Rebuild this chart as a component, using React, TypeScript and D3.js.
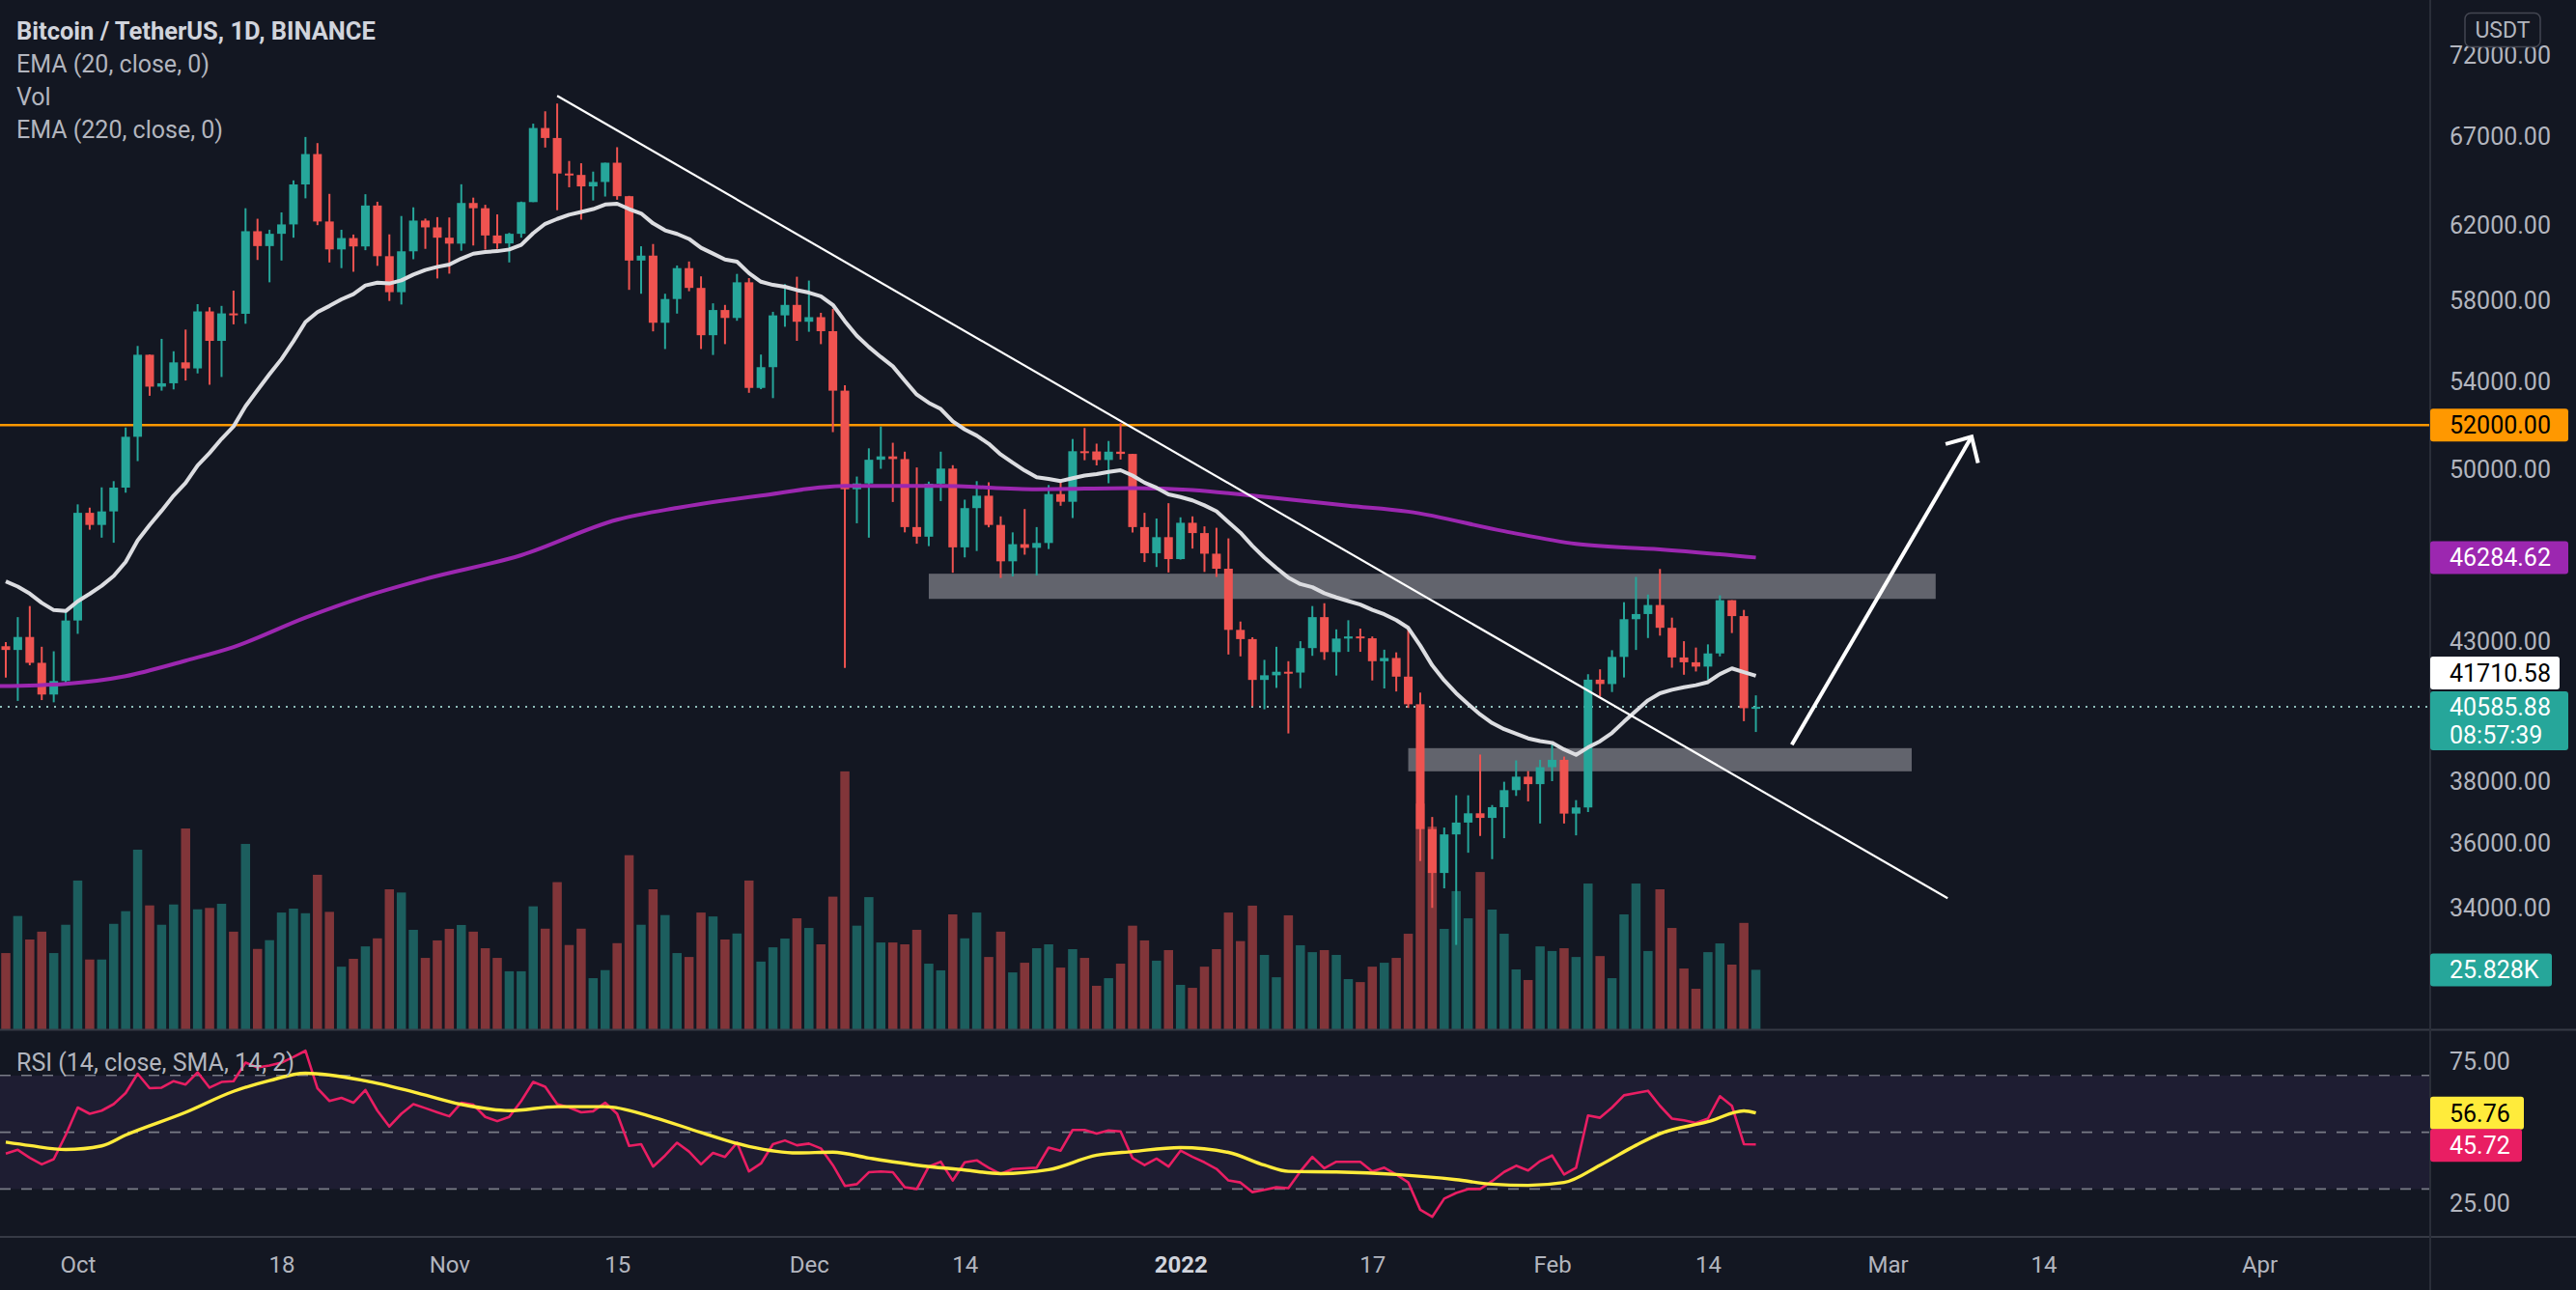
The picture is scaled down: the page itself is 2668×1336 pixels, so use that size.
import React, { useEffect, useRef } from 'react';
import * as d3 from 'd3';

const W = 2668;
const H = 1336;
const PLOT_R = 2517;      // left edge of the price scale
const PRICE_BOTTOM = 1066;
const RSI_BOTTOM = 1281;
const BG = '#131722';

const UP = '#26a69a';
const DOWN = '#ef5350';

const FIRST_DAY = Date.UTC(2021, 8, 25);
const DAY_MS = 86400000;
const day = (i: number) => new Date(FIRST_DAY + i * DAY_MS);

// daily candles [open, high, low, close], 25 Sep 2021 .. 18 Feb 2022
const ohlc: [number, number, number, number][] = [
  [42810, 42970, 41650, 42670], [42670, 43920, 40800, 43160], [43160, 44350, 42100, 42190],
  [42190, 42790, 40830, 41030], [41030, 42620, 40750, 41520], [41520, 44130, 41410, 43790],
  // Oct
  [43790, 48500, 43280, 48140], [48140, 48360, 47430, 47630], [47630, 49230, 47100, 48200],
  [48200, 49500, 46890, 49220], [49220, 51890, 49000, 51470], [51470, 55750, 50380, 55320],
  [55320, 55330, 53360, 53790], [53790, 56100, 53600, 53950], [53950, 55490, 53660, 54950],
  [54950, 56560, 54080, 54660], [54660, 57840, 54420, 57470], [57470, 57680, 53880, 56000],
  [56000, 57750, 54250, 57370], [57370, 58530, 56820, 57350], [57350, 62930, 56850, 61670],
  [61670, 62350, 60130, 60870], [60870, 61750, 58960, 61530], [61530, 62700, 60100, 62040],
  [62040, 64490, 61320, 64260], [64260, 67000, 63480, 66000], [66000, 66640, 62000, 62200],
  [62200, 63730, 60000, 60690], [60690, 61750, 59700, 61300], [61300, 61490, 59510, 60850],
  [60850, 63710, 60650, 63080], [63080, 63290, 59820, 60330], [60330, 61500, 58000, 58450],
  [58450, 62500, 57820, 60590], [60590, 62980, 60170, 62250], [62250, 62360, 60720, 61880],
  [61880, 62440, 59160, 61320],
  // Nov
  [61320, 62420, 59410, 61000], [61000, 64270, 60620, 63220], [63220, 63520, 60900, 62930],
  [62930, 63120, 60680, 61440], [61440, 62590, 60720, 61010], [61010, 61580, 60000, 61530],
  [61530, 63300, 61320, 63270], [63270, 67790, 63270, 67530], [67530, 68530, 66380, 66940],
  [66940, 69000, 62820, 64880], [64880, 65600, 64100, 64800], [64800, 65470, 62300, 64150],
  [64150, 64990, 63360, 64400], [64400, 65500, 63580, 65500], [65500, 66400, 63400, 63600],
  [63600, 63620, 58570, 60100], [60100, 60860, 58370, 60360], [60360, 60980, 56470, 56900],
  [56900, 58370, 55600, 58100], [58100, 59840, 57360, 59700], [59700, 60050, 58500, 58670],
  [58670, 59270, 55600, 56280], [56280, 57880, 55310, 57540], [57540, 57800, 55840, 57140],
  [57140, 59400, 57000, 58960], [58960, 59180, 53500, 53730], [53730, 55330, 53670, 54720],
  [54720, 57450, 53250, 57270], [57270, 58870, 56700, 57800], [57800, 59250, 56000, 56950],
  // Dec
  [56950, 59050, 56450, 57180], [57180, 57400, 55840, 56480], [56480, 57600, 51680, 53600],
  [53600, 53860, 42000, 49150], [49150, 49700, 47700, 49400], [49400, 50950, 47100, 50440],
  [50440, 51940, 50040, 50590], [50590, 51200, 48600, 50470], [50470, 50800, 47320, 47540],
  [47540, 50100, 46850, 47140], [47140, 49480, 46750, 49390], [49390, 50800, 48640, 50050],
  [50050, 50200, 45670, 46700], [46700, 48700, 46290, 48340], [48340, 49500, 46550, 48870],
  [48870, 49450, 47530, 47630], [47630, 47990, 45460, 46130], [46130, 47320, 45520, 46830],
  [46830, 48300, 46400, 46680], [46680, 47540, 45560, 46880], [46880, 49330, 46630, 48940],
  [48940, 49580, 48440, 48610], [48610, 51370, 47920, 50820], [50820, 51870, 50420, 50810],
  [50810, 51160, 50190, 50430], [50430, 51280, 49410, 50800], [50800, 52090, 50450, 50700],
  [50700, 50700, 47310, 47540], [47540, 48140, 46100, 46460], [46460, 47900, 45900, 47120],
  [47120, 48550, 45680, 46220],
  // Jan
  [46220, 47950, 46200, 47720], [47720, 47990, 46650, 47290], [47290, 47570, 45700, 46440],
  [46440, 47510, 45500, 45830], [45830, 47070, 42500, 43430], [43430, 43750, 42430, 43080],
  [43080, 43150, 40610, 41560], [41560, 42300, 40500, 41730], [41730, 42790, 41270, 41860],
  [41860, 42250, 39650, 41830], [41830, 43000, 41260, 42740], [42740, 44350, 42450, 43920],
  [43920, 44460, 42300, 42590], [42590, 43450, 41720, 43100], [43100, 43800, 42600, 43180],
  [43180, 43480, 42600, 43110], [43110, 43180, 41540, 42250], [42250, 42680, 41250, 42370],
  [42370, 42580, 41140, 41680], [41680, 43500, 40550, 40680], [40680, 41100, 35440, 36450],
  [36450, 36840, 34010, 35070], [35070, 36500, 34600, 36280], [36280, 37550, 32920, 36660],
  [36660, 37550, 35700, 36960], [36960, 38920, 36230, 36810], [36810, 37230, 35500, 37160],
  [37160, 38000, 36160, 37720], [37720, 38720, 37530, 38170], [38170, 38360, 37350, 37920],
  [37920, 38740, 36630, 38490],
  // Feb
  [38490, 39270, 38020, 38740], [38740, 38850, 36630, 36950], [36950, 37390, 36250, 37150],
  [37150, 41770, 37000, 41570], [41570, 41950, 40960, 41410], [41410, 42660, 41120, 42410],
  [42410, 44500, 41650, 43840], [43840, 45500, 42670, 44040], [44040, 44800, 43120, 44390],
  [44390, 45820, 43210, 43510], [43510, 43900, 42010, 42390], [42390, 43000, 41750, 42210],
  [42210, 42760, 41870, 42050], [42050, 42880, 41570, 42540], [42540, 44770, 42430, 44580],
  [44580, 44580, 43310, 43960], [43960, 44200, 40080, 40540], [40540, 41000, 39700, 40586],
];

// volume, thousands of BTC, same days
const volumesK = [
  33.1, 49.2, 39.0, 42.4, 33.1, 45.4,
  64.6, 30.3, 30.3, 45.8, 51.3, 78.0, 53.8, 45.4, 54.2, 87.2, 52.1, 52.7, 54.5, 42.4, 80.5,
  34.9, 38.7, 50.7, 52.4, 50.4, 67.1, 51.0, 27.2, 30.6, 36.0, 39.5, 60.8, 59.4, 43.2, 31.0, 38.6,
  43.6, 45.3, 42.4, 35.2, 31.0, 25.2, 25.2, 53.4, 43.7, 63.9, 36.6, 43.7, 22.2, 25.7, 37.4,
  75.6, 45.4, 60.8, 49.6, 33.1, 31.4, 50.7, 49.0, 39.0, 41.6, 64.6, 29.4, 35.6, 39.4, 48.2,
  44.0, 36.9, 57.6, 112.0, 45.0, 57.4, 37.7, 37.7, 36.9, 43.2, 28.5, 25.6, 49.9, 39.5, 50.7,
  31.4, 42.4, 24.7, 28.9, 35.2, 36.9, 26.8, 34.8, 31.0, 18.9, 22.2, 28.5, 45.0, 38.6, 29.8, 34.4,
  19.3, 18.0, 27.2, 34.8, 50.7, 38.3, 53.7, 32.3, 22.6, 49.5, 36.5, 33.5, 34.4, 32.3, 21.8,
  20.5, 27.2, 28.9, 31.0, 41.5, 98.0, 88.0, 43.6, 60.0, 48.2, 68.3, 52.0, 41.5, 26.0, 21.4, 36.0,
  34.0, 35.2, 31.4, 63.3, 31.8, 22.2, 49.9, 63.3, 34.0, 60.8, 44.0, 26.4, 17.6, 33.5, 37.3,
  28.1, 46.2, 25.828,
];

// EMA (20, close) per day
const ema20 = [
  45321, 45115, 44836, 44474, 44193, 44155,
  44534, 44829, 45150, 45538, 46103, 46981, 47629, 48231, 48871, 49422, 50188, 50742, 51373,
  51942, 52868, 53630, 54382, 55111, 55982, 56936, 57437, 57747, 58085, 58348, 58799, 58945,
  58898, 59059, 59363, 59603, 59767,
  59884, 60202, 60462, 60555, 60598, 60687, 60933, 61561, 62073, 62340, 62574, 62724, 62884,
  63133, 63177, 62884, 62644, 62097, 61716, 61524, 61252, 60778, 60470, 60153, 60039, 59438,
  58989, 58825, 58727, 58558,
  58427, 58242, 57800, 56976, 56254, 55700, 55213, 54761, 54073, 53413, 53030, 52746, 52170,
  51805, 51525, 51154, 50676, 50310, 49964, 49670, 49600, 49506, 49631, 49743, 49808, 49902,
  49978, 49746, 49433, 49213, 48928,
  48813, 48668, 48456, 48206, 47751, 47306, 46759, 46280, 45859, 45475, 45215, 45092, 44854,
  44687, 44544, 44407, 44202, 44028, 43804, 43506, 42834, 42095, 41541, 41076, 40684, 40315,
  40015, 39796, 39641, 39477, 39383,
  39322, 39096, 38911, 39164, 39378, 39667, 40064, 40443, 40819, 41075, 41200, 41296, 41368,
  41480, 41775, 41983, 41846, 41711,
];

// EMA (220, close) read at selected days [day index, value]
const ema220Pts: [number, number][] = [
  [-1, 41330], [5, 41420], [10, 41700], [15, 42270], [19, 42780], [25, 43900], [30, 44730],
  [35, 45420], [43, 46380], [51, 47850], [56, 48350], [63, 48875], [70, 49290], [78, 49290],
  [86, 49150], [94, 49200], [99, 49120], [104, 48875], [112, 48440], [117, 48190],
  [125, 47370], [131, 46840], [138, 46620], [146, 46285],
];

// RSI (14) per day
const rsi = [
  42.5, 43.8, 41.0, 38.7, 40.5, 49.0,
  58.7, 56.5, 57.6, 59.9, 63.8, 70.6, 65.5, 65.7, 68.0, 66.8, 71.1, 65.7, 67.7, 68.0, 74.5,
  72.8, 73.5, 74.5, 76.5, 78.7, 65.5, 61.0, 62.1, 60.4, 64.9, 57.6, 52.0, 56.5, 59.9, 58.5, 57.0,
  55.6, 60.4, 59.7, 55.4, 53.9, 55.4, 61.0, 67.7, 66.0, 59.9, 58.7, 57.0, 57.4, 60.4, 56.5,
  45.2, 45.8, 37.9, 41.8, 46.3, 43.2, 38.7, 42.7, 41.3, 46.3, 36.2, 39.0, 45.8, 47.1, 45.4,
  46.0, 44.3, 38.4, 31.1, 31.7, 35.9, 36.2, 35.9, 30.6, 30.0, 37.9, 39.6, 33.0, 39.4, 40.1,
  37.5, 35.3, 37.0, 37.3, 37.5, 44.6, 43.5, 50.8, 50.8, 49.5, 50.6, 50.3, 40.9, 38.4, 40.7, 37.9,
  43.5, 41.3, 39.4, 37.1, 33.0, 32.3, 28.9, 29.7, 30.6, 30.3, 36.2, 41.3, 37.3, 39.6, 39.6,
  39.6, 36.2, 37.5, 35.1, 32.3, 22.7, 20.2, 26.6, 28.6, 30.0, 30.0, 32.8, 36.0, 38.2, 36.5, 39.8,
  41.8, 35.1, 37.5, 55.9, 55.1, 58.7, 63.0, 63.8, 64.6, 59.3, 54.8, 54.2, 53.3, 54.8, 62.7,
  59.3, 45.8, 45.72,
];

// SMA (14) of RSI read at selected days [day index, value]
const rsiSmaPts: [number, number][] = [
  [0, 46.5], [2, 45.3], [5, 43.9], [8, 45.2], [10, 49.0], [15, 57.0], [19, 64.4], [22, 68.2],
  [25, 70.8], [30, 68.1], [34, 64.2], [38, 59.8], [42, 57.6], [46, 59.0], [50, 59.0],
  [54, 55.3], [58, 49.9], [62, 45.0], [66, 42.7], [69, 43.0], [72, 40.9], [76, 38.4],
  [80, 36.7], [83, 35.4], [87, 36.8], [91, 41.9], [94, 43.2], [98, 44.6], [102, 42.9],
  [105, 38.4], [107, 36.2], [111, 36.0], [116, 35.1], [121, 33.3], [124, 31.7], [127, 31.3],
  [130, 32.3], [133, 38.4], [136, 45.4], [138, 49.5], [142, 53.7], [145, 57.5], [146, 56.76],
];

const priceTicks = [72000, 67000, 62000, 58000, 54000, 50000, 43000, 38000, 36000, 34000];
const rsiTicks = [75, 25];
const rsiLevels = [70, 50, 30];
const timeTicks: [number, number, number, string][] = [
  [2021, 9, 1, 'Oct'], [2021, 9, 18, '18'], [2021, 10, 1, 'Nov'], [2021, 10, 15, '15'],
  [2021, 11, 1, 'Dec'], [2021, 11, 14, '14'], [2022, 0, 1, '2022'], [2022, 0, 17, '17'],
  [2022, 1, 1, 'Feb'], [2022, 1, 14, '14'], [2022, 2, 1, 'Mar'], [2022, 2, 14, '14'],
  [2022, 3, 1, 'Apr'],
];

// chart drawings
const resistance = 52000;
const zones = [
  { from: [2021, 11, 11], to: [2022, 2, 5], lo: 44630, hi: 45630 },
  { from: [2022, 0, 20], to: [2022, 2, 3], lo: 38350, hi: 39140 },
];
const trendLine = [{ d: [2021, 10, 10], p: 69470 }, { d: [2022, 2, 6], p: 34300 }];
const arrowLine = [{ d: [2022, 1, 21], p: 39260 }, { d: [2022, 2, 8], p: 51470 }];

const lastPrice = 40585.88;
const countdown = '08:57:39';

const FONT = 'Roboto, "Noto Sans", sans-serif';
const utc = (a: number[]) => new Date(Date.UTC(a[0], a[1], a[2]));

export default function App() {
  const ref = useRef<SVGSVGElement>(null);

  useEffect(() => {
    document.body.style.margin = '0';
    document.body.style.background = BG;
    const svg = d3.select(ref.current);
    svg.selectAll('*').remove();

    const x = d3.scaleUtc()
      .domain([day(0), new Date(Date.UTC(2022, 3, 1))])
      .range([6, 2340]);
    const y = d3.scaleLog().domain([30565, 75578]).range([PRICE_BOTTOM, 0]);
    const yVol = d3.scaleLinear().domain([0, 100]).range([PRICE_BOTTOM, PRICE_BOTTOM - 238.5]);
    const yRsi = d3.scaleLinear().domain([13.13, 86.26]).range([RSI_BOTTOM, PRICE_BOTTOM]);

    const candles = ohlc.map(([o, h, l, c], i) => ({ date: day(i), o, h, l, c, v: volumesK[i] }));

    svg.append('rect').attr('width', W).attr('height', H).attr('fill', BG);

    const defs = svg.append('defs');
    defs.append('clipPath').attr('id', 'clipPrice')
      .append('rect').attr('x', 0).attr('y', 0).attr('width', PLOT_R).attr('height', PRICE_BOTTOM);
    defs.append('clipPath').attr('id', 'clipRsi')
      .append('rect').attr('x', 0).attr('y', PRICE_BOTTOM).attr('width', PLOT_R).attr('height', RSI_BOTTOM - PRICE_BOTTOM);

    const pane = svg.append('g').attr('clip-path', 'url(#clipPrice)');

    // volume
    pane.append('g').selectAll('rect').data(candles).enter().append('rect')
      .attr('x', d => x(d.date) - 4.75)
      .attr('width', 9.5)
      .attr('y', d => yVol(d.v))
      .attr('height', d => PRICE_BOTTOM - yVol(d.v))
      .attr('fill', d => d.c >= d.o ? UP : DOWN)
      .attr('opacity', 0.5);

    // last price dotted line
    pane.append('line')
      .attr('x1', 0).attr('x2', PLOT_R)
      .attr('y1', y(lastPrice)).attr('y2', y(lastPrice))
      .attr('stroke', '#8fbfba').attr('stroke-width', 2).attr('stroke-dasharray', '2 6');

    // resistance line
    pane.append('line')
      .attr('x1', 0).attr('x2', PLOT_R)
      .attr('y1', y(resistance)).attr('y2', y(resistance))
      .attr('stroke', '#ff9800').attr('stroke-width', 2.5);

    // zones
    pane.append('g').selectAll('rect').data(zones).enter().append('rect')
      .attr('x', d => x(utc(d.from)))
      .attr('width', d => x(utc(d.to)) - x(utc(d.from)))
      .attr('y', d => y(d.hi))
      .attr('height', d => y(d.lo) - y(d.hi))
      .attr('fill', '#62646d');

    // candles
    const cg = pane.append('g').selectAll('g').data(candles).enter().append('g');
    cg.append('line')
      .attr('x1', d => x(d.date)).attr('x2', d => x(d.date))
      .attr('y1', d => y(d.h)).attr('y2', d => y(d.l))
      .attr('stroke', d => d.c >= d.o ? UP : DOWN).attr('stroke-width', 2);
    cg.append('rect')
      .attr('x', d => x(d.date) - 4.5)
      .attr('width', 9)
      .attr('y', d => y(Math.max(d.o, d.c)))
      .attr('height', d => Math.max(2, Math.abs(y(d.o) - y(d.c))))
      .attr('fill', d => d.c >= d.o ? UP : DOWN);

    // moving averages
    const lineLog = d3.line<[Date, number]>().x(d => x(d[0])).y(d => y(d[1]));
    pane.append('path')
      .datum(ema220Pts.map(([i, v]) => [day(i), v] as [Date, number]))
      .attr('d', lineLog.curve(d3.curveMonotoneX))
      .attr('fill', 'none').attr('stroke', '#9c27b0').attr('stroke-width', 4);
    pane.append('path')
      .datum(ema20.map((v, i) => [day(i), v] as [Date, number]))
      .attr('d', d3.line<[Date, number]>().x(d => x(d[0])).y(d => y(d[1])))
      .attr('fill', 'none').attr('stroke', '#dcdde1').attr('stroke-width', 4)
      .attr('stroke-linejoin', 'round');

    // trend line
    pane.append('line')
      .attr('x1', x(utc(trendLine[0].d))).attr('y1', y(trendLine[0].p))
      .attr('x2', x(utc(trendLine[1].d))).attr('y2', y(trendLine[1].p))
      .attr('stroke', '#ffffff').attr('stroke-width', 2.2);

    // arrow
    const ax1 = x(utc(arrowLine[0].d)), ay1 = y(arrowLine[0].p);
    const ax2 = x(utc(arrowLine[1].d)), ay2 = y(arrowLine[1].p);
    const ang = Math.atan2(ay1 - ay2, ax1 - ax2);
    const head = 28, spread = (44 * Math.PI) / 180;
    pane.append('line')
      .attr('x1', ax1).attr('y1', ay1).attr('x2', ax2).attr('y2', ay2)
      .attr('stroke', '#ffffff').attr('stroke-width', 4);
    pane.append('path')
      .attr('d', `M${ax2 + head * Math.cos(ang + spread)},${ay2 + head * Math.sin(ang + spread)}L${ax2},${ay2}L${ax2 + head * Math.cos(ang - spread)},${ay2 + head * Math.sin(ang - spread)}`)
      .attr('fill', 'none').attr('stroke', '#ffffff').attr('stroke-width', 4).attr('stroke-linejoin', 'miter');

    // RSI pane
    const rp = svg.append('g').attr('clip-path', 'url(#clipRsi)');
    rp.append('rect')
      .attr('x', 0).attr('width', PLOT_R)
      .attr('y', yRsi(70)).attr('height', yRsi(30) - yRsi(70))
      .attr('fill', '#7e57c2').attr('opacity', 0.1);
    rp.selectAll('line.lvl').data(rsiLevels).enter().append('line')
      .attr('x1', 0).attr('x2', PLOT_R)
      .attr('y1', d => yRsi(d)).attr('y2', d => yRsi(d))
      .attr('stroke', '#787b86').attr('stroke-width', 1.6).attr('stroke-dasharray', '11 11');
    rp.append('path')
      .datum(rsi.map((v, i) => [day(i), v] as [Date, number]))
      .attr('d', d3.line<[Date, number]>().x(d => x(d[0])).y(d => yRsi(d[1])))
      .attr('fill', 'none').attr('stroke', '#e91e63').attr('stroke-width', 2.6)
      .attr('stroke-linejoin', 'round');
    rp.append('path')
      .datum(rsiSmaPts.map(([i, v]) => [day(i), v] as [Date, number]))
      .attr('d', d3.line<[Date, number]>().x(d => x(d[0])).y(d => yRsi(d[1])).curve(d3.curveMonotoneX))
      .attr('fill', 'none').attr('stroke', '#ffeb3b').attr('stroke-width', 3.4);

    // separators
    svg.append('line').attr('x1', 0).attr('x2', W).attr('y1', PRICE_BOTTOM + 0.5).attr('y2', PRICE_BOTTOM + 0.5)
      .attr('stroke', '#363a45').attr('stroke-width', 2);
    svg.append('line').attr('x1', 0).attr('x2', W).attr('y1', RSI_BOTTOM).attr('y2', RSI_BOTTOM)
      .attr('stroke', '#363a45').attr('stroke-width', 2);
    svg.append('line').attr('x1', PLOT_R).attr('x2', PLOT_R).attr('y1', 0).attr('y2', H)
      .attr('stroke', '#2a2e39').attr('stroke-width', 2);

    // price axis
    const pAxis = svg.append('g').attr('transform', `translate(${PLOT_R},0)`)
      .call(d3.axisRight(y).tickValues(priceTicks).tickFormat(d3.format('.2f')).tickSize(0).tickPadding(20));
    pAxis.select('.domain').remove();
    pAxis.selectAll('text')
      .attr('fill', '#b2b5be').attr('font-size', 25).attr('font-family', FONT);

    const rAxis = svg.append('g').attr('transform', `translate(${PLOT_R},0)`)
      .call(d3.axisRight(yRsi).tickValues(rsiTicks).tickFormat(d3.format('.2f')).tickSize(0).tickPadding(20));
    rAxis.select('.domain').remove();
    rAxis.selectAll('text')
      .attr('fill', '#b2b5be').attr('font-size', 25).attr('font-family', FONT);

    // time axis
    const tAxis = svg.append('g').attr('transform', `translate(0,${RSI_BOTTOM})`)
      .call(d3.axisBottom(x)
        .tickValues(timeTicks.map(t => new Date(Date.UTC(t[0], t[1], t[2]))))
        .tickFormat((_, i) => timeTicks[i][3])
        .tickSize(0).tickPadding(20));
    tAxis.select('.domain').remove();
    tAxis.selectAll('text')
      .attr('fill', (_, i) => timeTicks[i][3] === '2022' ? '#d1d4dc' : '#b2b5be')
      .attr('font-weight', (_, i) => timeTicks[i][3] === '2022' ? 'bold' : 'normal')
      .attr('font-size', 24).attr('font-family', FONT);

    // scale badges
    const badge = (v: number, yy: number, w: number, fill: string, color: string, label: string) => {
      const g = svg.append('g');
      g.append('rect').attr('x', PLOT_R).attr('y', yy - 17).attr('width', w).attr('height', 34)
        .attr('rx', 3).attr('fill', fill);
      g.append('text').attr('x', PLOT_R + 20).attr('y', yy).attr('dy', '0.36em')
        .attr('fill', color).attr('font-size', 25).attr('font-family', FONT).text(label);
    };
    badge(resistance, y(resistance), 143, '#ff9800', '#000000', d3.format('.2f')(resistance));
    badge(46284.62, y(46284.62), 143, '#9c27b0', '#ffffff', '46284.62');
    badge(41710.58, y(41710.58) - 3, 134, '#ffffff', '#000000', '41710.58');

    const lp = svg.append('g');
    lp.append('rect').attr('x', PLOT_R).attr('y', y(lastPrice) - 16).attr('width', 143).attr('height', 61)
      .attr('rx', 3).attr('fill', UP);
    lp.append('text').attr('x', PLOT_R + 20).attr('y', y(lastPrice)).attr('dy', '0.36em')
      .attr('fill', '#ffffff').attr('font-size', 25).attr('font-family', FONT).text(d3.format('.2f')(lastPrice));
    lp.append('text').attr('x', PLOT_R + 20).attr('y', y(lastPrice) + 29).attr('dy', '0.36em')
      .attr('fill', '#ffffff').attr('font-size', 25).attr('font-family', FONT).text(countdown);

    const lastVol = volumesK[volumesK.length - 1];
    badge(lastVol, yVol(lastVol), 126, UP, '#ffffff', `${d3.format('.3f')(lastVol)}K`);
    const lastSma = rsiSmaPts[rsiSmaPts.length - 1][1];
    const lastRsi = rsi[rsi.length - 1];
    badge(lastSma, yRsi(lastSma), 97, '#ffeb3b', '#000000', d3.format('.2f')(lastSma));
    badge(lastRsi, yRsi(lastRsi) + 1, 95, '#e91e63', '#ffffff', d3.format('.2f')(lastRsi));

    // currency box
    svg.append('rect').attr('x', 2553).attr('y', 13.5).attr('width', 78).attr('height', 35)
      .attr('rx', 6).attr('fill', BG).attr('stroke', '#434651').attr('stroke-width', 1.5);
    svg.append('text').attr('x', 2592).attr('y', 31).attr('dy', '0.36em').attr('text-anchor', 'middle')
      .attr('fill', '#b2b5be').attr('font-size', 23).attr('font-family', FONT).text('USDT');

    // legends
    const legend = [
      { t: 'Bitcoin / TetherUS, 1D, BINANCE', y: 41, bold: true, size: 25.5 },
      { t: 'EMA (20, close, 0)', y: 75, bold: false, size: 25 },
      { t: 'Vol', y: 109, bold: false, size: 25 },
      { t: 'EMA (220, close, 0)', y: 143, bold: false, size: 25 },
      { t: 'RSI (14, close, SMA, 14, 2)', y: 1109, bold: false, size: 25 },
    ];
    svg.append('g').selectAll('text').data(legend).enter().append('text')
      .attr('x', 17).attr('y', d => d.y)
      .attr('fill', d => d.bold ? '#d1d4dc' : '#b2b5be')
      .attr('font-weight', d => d.bold ? 'bold' : 'normal')
      .attr('font-size', d => d.size).attr('font-family', FONT)
      .text(d => d.t);
  }, []);

  return <svg ref={ref} width={W} height={H} style={{ display: 'block' }} />;
}
